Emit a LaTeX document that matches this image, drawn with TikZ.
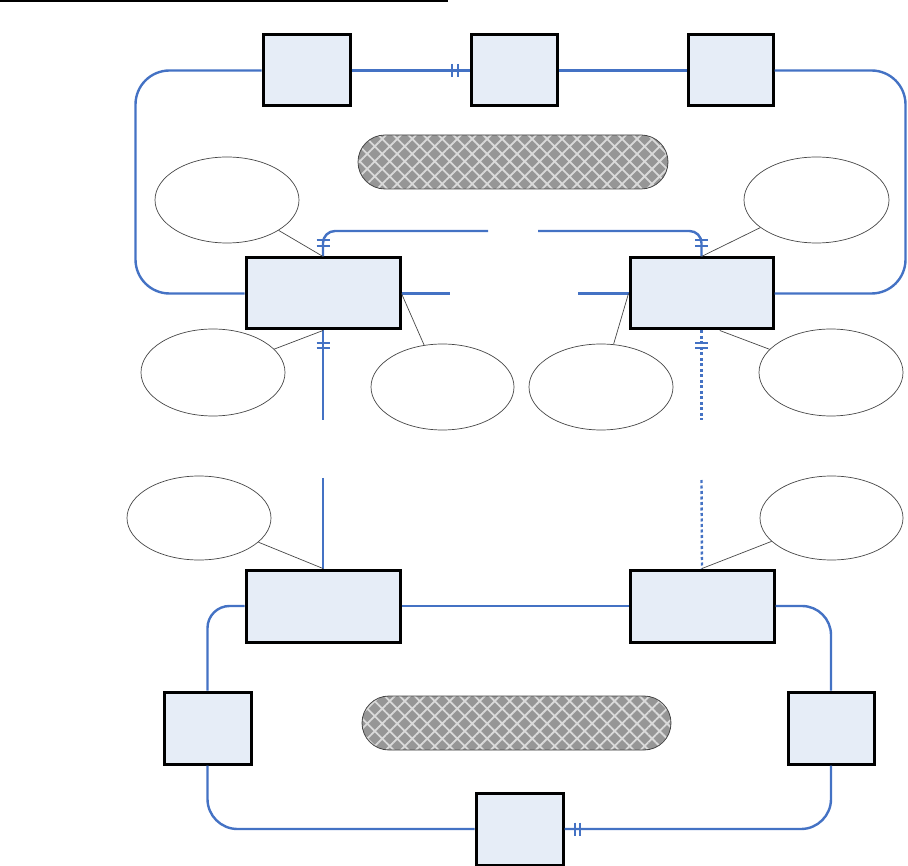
\documentclass[tikz,border=0pt]{standalone}
\usepackage{tikz}
\usetikzlibrary{
  shapes.geometric,
  positioning,
  calc,
  patterns.meta
}
\usepackage{xcolor}
\definecolor{cblue}{RGB}{68,114,196}
\definecolor{lblue}{RGB}{230,237,247}
\definecolor{cgray}{RGB}{70,70,70}
\definecolor{pfill}{RGB}{150,150,150}
\definecolor{pline}{RGB}{218,218,218}
\tikzset{
  unit/.style={
    rectangle, fill=lblue, draw=black, line width=3pt,
    minimum width=87pt, minimum height=71pt, inner sep=0pt
  },
  hub/.style={
    unit, minimum width=154pt
  },
  bubble/.style={
    ellipse, fill=white, draw=cgray, line width=0.7pt,
    minimum width=144pt, minimum height=86pt, inner sep=0pt
  },
  pill/.style={
    rectangle, rounded corners=27pt, draw=cgray, line width=0.8pt,
    minimum width=310pt, minimum height=54pt, inner sep=0pt,
    preaction={fill=pfill},
    pattern={Hatch[angle=45,distance=10.6pt,line width=1.8pt]},
    pattern color=pline
  },
  link/.style={line width=2.4pt, color=cblue},
  linkdot/.style={link, dash pattern=on 3pt off 2.5pt},
  lead/.style={line width=0.7pt, color=cgray}
}
\newcommand{\tickpairH}[1]{%
  \draw[link] ($(#1)+(-2.75,-6.5)$) -- ++(0,13)
              ($(#1)+(2.75,-6.5)$) -- ++(0,13);}
\newcommand{\tickpairV}[1]{%
  \draw[link] ($(#1)+(-6.5,-2.75)$) -- ++(13,0)
              ($(#1)+(-6.5,2.75)$) -- ++(13,0);}

\begin{document}
\begin{tikzpicture}[x=1pt, y=-1pt]
    \useasboundingbox (0,0) rectangle (908,866);

    %% Rule at the top
    \draw[line width=2.5pt] (0,1.2) -- (448,1.2);

    %% Upper group
    \node[unit] (T1) at (306.5,70.5) {};
    \node[unit, minimum width=86pt] (T2) at (514,70.5) {};
    \node[unit, minimum width=85pt] (T3) at (730.5,70.5) {};
    \node[pill] (P1) at (513,162) {};
    \node[hub] (M1) at (323,293.5) {};
    \node[hub, minimum width=143pt] (M2) at (701.5,293.5) {};

    %% Lower group
    \node[hub, minimum height=72pt] (M3) at (323,606) {};
    \node[hub, minimum width=144pt, minimum height=72pt] (M4) at (702,606) {};
    \node[pill, minimum width=309pt] (P2) at (516.5,723) {};
    \node[unit, minimum height=72pt] (B1) at (207.5,728) {};
    \node[unit, minimum height=72pt] (B2) at (519.5,829) {};
    \node[unit, minimum width=86pt, minimum height=72pt] (B3) at (831,728) {};

    %% Free ends of the broken links
    \coordinate (h1) at (488,231);
    \coordinate (h2) at (538,231);
    \coordinate (s1) at (450,293.5);
    \coordinate (s2) at (578,293.5);
    \coordinate (g1) at (323,420);
    \coordinate (g2) at (323,478);
    \coordinate (g3) at (701.5,420);
    \coordinate (g4) at (701.5,480);

    %% Ring links, upper
    \draw[link] (T1.east) -- (T2.west);
    \draw[link] (T2.east) -- (T3.west);
    \draw[link, rounded corners=34pt]
      (T1.west) -| ($(M1.west)+(-109,0)$) -- (M1.west);
    \draw[link, rounded corners=34pt]
      (T3.east) -| ($(M2.east)+(131,0)$) -- (M2.east);
    \draw[link, rounded corners=12pt] (M1.north) |- (h1);
    \draw[link, rounded corners=12pt] (h2) -| (M2.north);
    \draw[link] (M1.east) -- (s1);
    \draw[link] (s2) -- (M2.west);

    %% Links between the groups
    \draw[link] (M1.south) -- (g1);
    \draw[link] (g2) -- (M3.north);
    \draw[linkdot] (M2.south) -- (g3);
    \draw[linkdot] (g4) -- (M4.north);

    %% Ring links, lower
    \draw[link] (M3.east) -- (M4.west);
    \draw[link, rounded corners=22pt] (M3.west) -| (B1.north);
    \draw[link, rounded corners=30pt] (B1.south) |- (B2.west);
    \draw[link, rounded corners=30pt] (B2.east) -| (B3.south);
    \draw[link, rounded corners=29pt] (M4.east) -| (B3.north);

    %% Break marks
    \tickpairH{$(T2.west)+(-14.5,0)$}
    \tickpairH{$(B2.east)+(13,0)$}
    \tickpairV{$(M1.north)+(0,-13.5)$}
    \tickpairV{$(M2.north)+(0,-13.5)$}
    \tickpairV{$(M1.south)+(0,15)$}
    \tickpairV{$(M2.south)+(0,15)$}

    %% Callouts
    \node[bubble] (E1) at (227,200) {};
    \node[bubble, minimum width=145pt] (E2) at (816.5,200) {};
    \node[bubble, minimum height=87pt] (E3) at (213,372.5) {};
    \node[bubble, minimum width=143pt] (E4) at (442.5,387) {};
    \node[bubble] (E5) at (601,387) {};
    \node[bubble, minimum height=87pt] (E6) at (831,372.5) {};
    \node[bubble, minimum height=84pt] (E7) at (199,518) {};
    \node[bubble, minimum width=143pt, minimum height=84pt] (E8) at (831.5,518) {};

    \draw[lead] (M1.north) -- (E1);
    \draw[lead] (M1.south) -- (E3);
    \draw[lead] (M1.east) -- (E4);
    \draw[lead] (M2.north) -- (E2);
    \draw[lead] (M2.west) -- (E5);
    \draw[lead] ($(M2.south)!0.25!(M2.south east)$) -- (E6);
    \draw[lead] (M3.north) -- (E7);
    \draw[lead] (M4.north) -- (E8);

  \end{tikzpicture}
\end{document}
